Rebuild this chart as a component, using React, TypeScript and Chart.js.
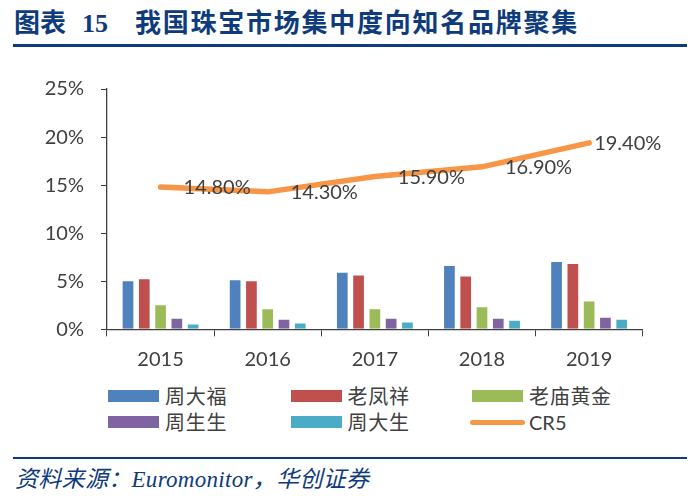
import React, { useEffect, useRef } from "react";
import { Chart, registerables } from "chart.js";

Chart.register(...registerables);

const categories = ["2015", "2016", "2017", "2018", "2019"];
const chowTaiFook = [5.1, 5.2, 6.0, 6.7, 7.1];
const laoFengXiang = [5.3, 5.1, 5.7, 5.6, 6.9];
const laoMiao = [2.6, 2.2, 2.2, 2.4, 3.0];
const chowSangSang = [1.2, 1.1, 1.2, 1.2, 1.3];
const chowTaiSang = [0.6, 0.7, 0.8, 1.0, 1.1];
const cr5 = [14.8, 14.3, 15.9, 16.9, 19.4];
const cr5Labels = ["14.80%", "14.30%", "15.90%", "16.90%", "19.40%"];
const yTicks = [0, 5, 10, 15, 20, 25];

const barColors = ["#4F81BD", "#C0504D", "#9BBB59", "#8064A2", "#4BACC6"];
const lineColor = "#F79646";
const textColor = "#404040";
const navy = "#0E3B7C";

const legendItems = [
  { label: "周大福", color: barColors[0], type: "bar" },
  { label: "老凤祥", color: barColors[1], type: "bar" },
  { label: "老庙黄金", color: barColors[2], type: "bar" },
  { label: "周生生", color: barColors[3], type: "bar" },
  { label: "周大生", color: barColors[4], type: "bar" },
  { label: "CR5", color: lineColor, type: "line" },
];

const labelPlugin = {
  id: "cr5Labels",
  afterDatasetsDraw(chart: any) {
    const idx = chart.data.datasets.findIndex((d: any) => d.type === "line");
    if (idx < 0) return;
    const meta = chart.getDatasetMeta(idx);
    const ctx = chart.ctx;
    const offsets = [23, 23, 23, 23, 5];
    ctx.save();
    ctx.font = "20px Lato";
    ctx.fillStyle = textColor;
    ctx.textAlign = "left";
    ctx.textBaseline = "middle";
    meta.data.forEach((pt: any, i: number) => {
      ctx.fillText(cr5Labels[i], pt.x + offsets[i], pt.y + 1);
    });
    ctx.restore();
  },
};

function ChartBox() {
  const ref = useRef<HTMLCanvasElement | null>(null);
  useEffect(() => {
    if (!ref.current) return;
    const mk = (label: string, data: number[], color: string) => ({
      type: "bar" as const,
      label,
      data,
      backgroundColor: color,
      borderColor: "rgba(255,255,255,0.35)",
      borderWidth: 1,
      order: 1,
      categoryPercentage: 0.76,
      barPercentage: 0.78,
    });
    const chart = new Chart(ref.current, {
      type: "bar",
      data: {
        labels: categories,
        datasets: [
          {
            type: "line" as const,
            label: "CR5",
            data: cr5,
            borderColor: lineColor,
            backgroundColor: lineColor,
            borderWidth: 5.5,
            pointRadius: 0,
            tension: 0,
            borderCapStyle: "round",
            borderJoinStyle: "round",
            order: 0,
          } as any,
          mk("周大福", chowTaiFook, barColors[0]),
          mk("老凤祥", laoFengXiang, barColors[1]),
          mk("老庙黄金", laoMiao, barColors[2]),
          mk("周生生", chowSangSang, barColors[3]),
          mk("周大生", chowTaiSang, barColors[4]),
        ],
      },
      options: {
        responsive: false,
        animation: false,
        layout: { padding: { top: 27.7, right: 49.3, left: 0, bottom: 0 } },
        plugins: { legend: { display: false }, tooltip: { enabled: false } },
        scales: {
          x: {
            offset: true,
            grid: {
              offset: true,
              drawOnChartArea: false,
              drawTicks: true,
              tickLength: 7,
              color: "#404040",
            },
            border: { display: true, color: "#404040", width: 1.3 },
            ticks: {
              color: textColor,
              font: { family: "Lato", size: 20 },
              padding: 11,
            },
            afterFit(scale: any) {
              scale.height = 45.7;
            },
          },
          y: {
            min: 0,
            max: 25,
            afterBuildTicks(scale: any) {
              scale.ticks = yTicks.map((v) => ({ value: v }));
            },
            grid: {
              drawOnChartArea: false,
              drawTicks: true,
              tickLength: 6,
              color: "#404040",
            },
            border: { display: true, color: "#404040", width: 1.3 },
            ticks: {
              color: textColor,
              font: { family: "Lato", size: 20 },
              padding: 17,
              callback: (v: any) => `${v}%`,
            },
            afterFit(scale: any) {
              scale.width = 107;
            },
          },
        },
      },
      plugins: [labelPlugin],
    });
    return () => chart.destroy();
  }, []);
  return (
    <canvas
      ref={ref}
      width={692}
      height={315}
      style={{ position: "absolute", left: 0, top: 60, width: 692, height: 315 }}
    />
  );
}

export default function App() {
  const colLeft = [108, 290.5, 472];
  const rowCenter = [396, 422];
  return (
    <div
      style={{
        position: "fixed",
        left: 0,
        top: 0,
        width: 692,
        height: 499,
        background: "#fff",
        overflow: "hidden",
      }}
    >
      <div
        style={{
          position: "absolute",
          left: 14,
          top: 8,
          height: 32,
          lineHeight: "32px",
          fontSize: 26,
          fontWeight: 700,
          color: navy,
          fontFamily: "'Liberation Serif', 'Noto Sans CJK SC', serif",
          whiteSpace: "nowrap",
        }}
      >
        <span>图表</span>
        <span style={{ marginLeft: 16 }}>15</span>
        <span style={{ marginLeft: 27, letterSpacing: 1.75 }}>我国珠宝市场集中度向知名品牌聚集</span>
      </div>
      <div style={{ position: "absolute", left: 13, top: 44, width: 674, height: 3.3, background: navy }} />
      <ChartBox />
      {legendItems.map((it, i) => {
        const col = i % 3;
        const row = Math.floor(i / 3);
        const cy = rowCenter[row];
        const left = colLeft[col];
        return (
          <div key={it.label}>
            {it.type === "bar" ? (
              <div
                style={{
                  position: "absolute",
                  left,
                  top: cy - 6,
                  width: 51,
                  height: 12,
                  background: it.color,
                }}
              />
            ) : (
              <div
                style={{
                  position: "absolute",
                  left: left - 2,
                  top: cy - 2.5,
                  width: 55,
                  height: 5,
                  borderRadius: 3,
                  background: it.color,
                }}
              />
            )}
            <div
              style={{
                position: "absolute",
                left: left + 57,
                top: cy - 14,
                height: 28,
                lineHeight: "28px",
                fontSize: 20,
                letterSpacing: it.type === "line" ? 0 : 0.7,
                color: textColor,
                fontFamily: it.type === "line" ? "Lato" : "'Noto Sans CJK SC', sans-serif",
                whiteSpace: "nowrap",
              }}
            >
              {it.label}
            </div>
          </div>
        );
      })}
      <div style={{ position: "absolute", left: 13, top: 456.7, width: 674, height: 2.8, background: navy }} />
      <div
        style={{
          position: "absolute",
          left: 15,
          top: 465,
          height: 30,
          lineHeight: "30px",
          fontSize: 23,
          letterSpacing: 0.3,
          fontStyle: "italic",
          color: navy,
          fontFamily: "'Liberation Serif', 'Noto Sans CJK SC', serif",
          whiteSpace: "nowrap",
        }}
      >
        资料来源：Euromonitor，华创证券
      </div>
    </div>
  );
}
